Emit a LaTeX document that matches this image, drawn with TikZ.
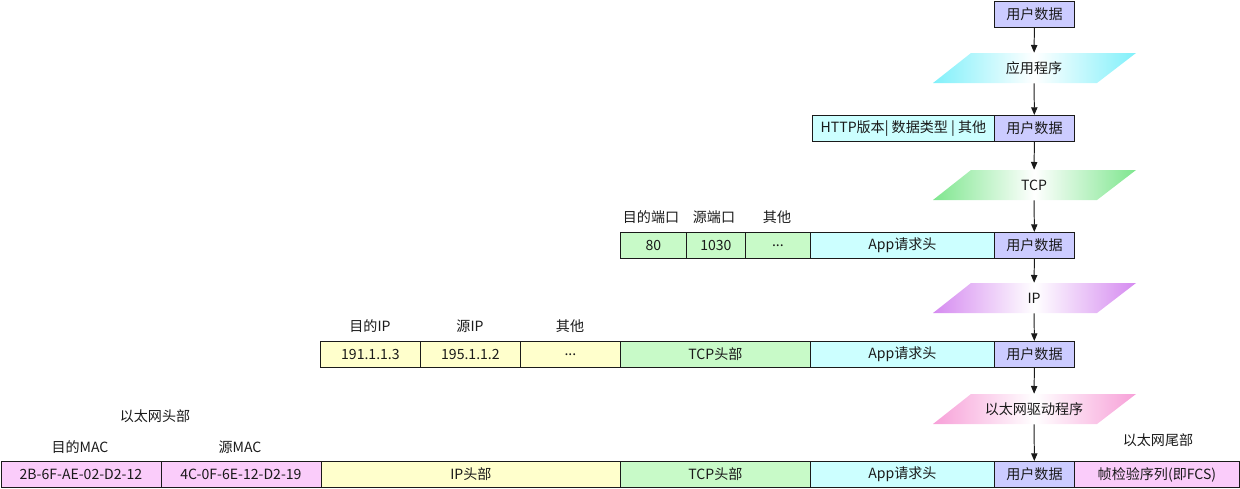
\documentclass[tikz,border=0pt]{standalone}
\usepackage{fontspec}
\setmainfont{Noto Sans CJK SC}
\usepackage{xcolor}
\definecolor{ntink}{HTML}{1A1A1A}
\definecolor{ntuser}{HTML}{CCCCFF}
\definecolor{ntapp}{HTML}{CCFFFF}
\definecolor{nttcp}{HTML}{C8FAC8}
\definecolor{ntip}{HTML}{FFFFCC}
\definecolor{nteth}{HTML}{FACCFA}
\definecolor{ntappdk}{HTML}{80F0FA}
\definecolor{nttcpdk}{HTML}{7EE68E}
\definecolor{ntipdk}{HTML}{D58AF0}
\definecolor{ntethdk}{HTML}{F7A0D8}
\usetikzlibrary{arrows.meta,positioning,calc}
\tikzset{
  ntcell/.style ={rectangle, draw=ntink, line width=0.6pt, minimum height=26*0.025cm,
                  inner sep=0pt, anchor=north west, font=\fontsize{10}{12}\selectfont, text=ntink},
  ntlayer/.style={rectangle, inner sep=0pt, minimum width=80*0.025cm, minimum height=30*0.025cm,
                  font=\fontsize{10}{12}\selectfont, text=ntink},
  ntlbl/.style  ={font=\fontsize{10}{12}\selectfont, text=ntink, inner sep=0pt},
  ntarrow/.style={-{Triangle[length=5.5pt,width=4.5pt]}, line width=0.7pt, draw=ntink},
}
% cell: name, left x, top y, width, fill, text
\newcommand{\pkcell}[6]{%
  \node[ntcell, fill=#5, minimum width=#4*0.025cm] (#1) at (#2,#3) {#6};}
% layer: name, top y, colour, text
\newcommand{\pklayer}[4]{%
  \shade[left color=#3, right color=#3, middle color=white]
    (933,#2+30) -- (1097,#2+30) -- (1136,#2) -- (971,#2) -- cycle;
  \node[ntlayer] (#1) at (1034,#2+15) {#4};}

\begin{document}
\begin{tikzpicture}[x=0.025cm, y=-0.025cm]
  \useasboundingbox (0,0) rectangle (1240,488);
  % application
  \pkcell{u0}{994}{1}{80}{ntuser}{用户数据}
  \pklayer{lapp}{53}{ntappdk}{应用程序}
  \pkcell{h1}{812}{115}{182}{ntapp}{HTTP版本| 数据类型 | 其他}
  \pkcell{u1}{994}{115}{80}{ntuser}{用户数据}
  % transport
  \pklayer{ltcp}{170}{nttcpdk}{TCP}
  \pkcell{dport}{620}{232}{66}{nttcp}{80}
  \pkcell{sport}{686}{232}{59}{nttcp}{1030}
  \pkcell{tmore}{745}{232}{65}{nttcp}{...}
  \pkcell{a2}{810}{232}{184}{ntapp}{App请求头}
  \pkcell{u2}{994}{232}{80}{ntuser}{用户数据}
  \node[ntlbl] (ldport) at (651,217) {目的端口};
  \node[ntlbl] (lsport) at (714,217) {源端口};
  \node[ntlbl] (ltmore) at (777,217) {其他};
  % network
  \pklayer{lip}{283}{ntipdk}{IP}
  \pkcell{dip}{320}{341}{100}{ntip}{191.1.1.3}
  \pkcell{sip}{420}{341}{100}{ntip}{195.1.1.2}
  \pkcell{imore}{520}{341}{100}{ntip}{...}
  \pkcell{t3}{620}{341}{190}{nttcp}{TCP头部}
  \pkcell{a3}{810}{341}{184}{ntapp}{App请求头}
  \pkcell{u3}{994}{341}{80}{ntuser}{用户数据}
  \node[ntlbl] (ldip) at (370,326) {目的IP};
  \node[ntlbl] (lsip) at (470,326) {源IP};
  \node[ntlbl] (limore) at (570,326) {其他};
  % link
  \pklayer{leth}{394}{ntethdk}{以太网驱动程序}
  \pkcell{dmac}{0.5}{461}{160}{nteth}{2B-6F-AE-02-D2-12}
  \pkcell{smac}{160.5}{461}{160}{nteth}{4C-0F-6E-12-D2-19}
  \pkcell{i4}{320.5}{461}{300}{ntip}{IP头部}
  \pkcell{t4}{620}{461}{190}{nttcp}{TCP头部}
  \pkcell{a4}{810}{461}{184}{ntapp}{App请求头}
  \pkcell{u4}{994}{461}{80}{ntuser}{用户数据}
  \pkcell{fcs}{1074}{461}{165}{nteth}{帧检验序列(即FCS)}
  \node[ntlbl] (lehead) at (155,416) {以太网头部};
  \node[ntlbl] (ldmac) at (80,447) {目的MAC};
  \node[ntlbl] (lsmac) at (240,447) {源MAC};
  \node[ntlbl] (letail) at (1158,440) {以太网尾部};
  % arrows
  \draw[ntarrow] (u0) -- (lapp);
  \draw[ntarrow] (lapp) -- (u1);
  \draw[ntarrow] (u1) -- (ltcp);
  \draw[ntarrow] (ltcp) -- (u2);
  \draw[ntarrow] (u2) -- (lip);
  \draw[ntarrow] (lip) -- (u3);
  \draw[ntarrow] (u3) -- (leth);
  \draw[ntarrow] (leth) -- (u4);
\end{tikzpicture}
\end{document}
